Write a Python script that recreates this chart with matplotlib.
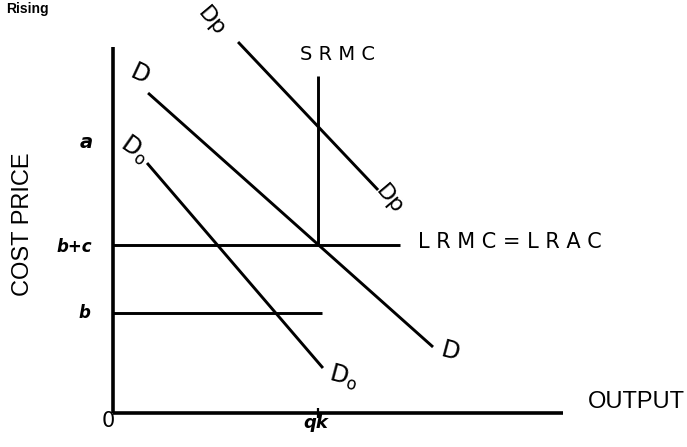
import matplotlib
matplotlib.use("Agg")
import matplotlib.pyplot as plt

# ---- data (x: output units, y: price units; origin at O) ----
qk = 100.0
b = 100.0
b_plus_c = 168.0
a_level = 270.0

# demand curves: (x_start, x_end), (y_start, y_end)
D_x = [17.1, 156.1]
D_y = [320.0, 66.0]
Do_x = [16.6, 102.4]
Do_y = [250.0, 45.0]
Dp_x = [61.0, 129.3]
Dp_y = [371.0, 223.0]

# cost lines
srmc_x = [qk, qk]
srmc_y = [b_plus_c, 337.0]
lrmc_x = [0.0, 140.0]
lrmc_y = [b_plus_c, b_plus_c]
b_x = [0.0, 102.0]
b_y = [b, b]

x_max = 219.5
y_max = 366.0

W, H = 687, 447
fig = plt.figure(figsize=(W / 100, H / 100), dpi=100)
ax = fig.add_axes([113 / W, (H - 413) / H, 450 / W, 366 / H])
ax.set_xlim(0, x_max)
ax.set_ylim(0, y_max)
for s in ["top", "right"]:
    ax.spines[s].set_visible(False)
for s in ["left", "bottom"]:
    ax.spines[s].set_linewidth(2.6)
    ax.spines[s].set_capstyle("butt")

lw = 2.1
kw = dict(color="black", lw=lw, solid_capstyle="butt", clip_on=False)
ax.plot(D_x, D_y, **kw)
ax.plot(Do_x, Do_y, **kw)
ax.plot(Dp_x, Dp_y, **kw)
ax.plot(srmc_x, srmc_y, **kw)
ax.plot(lrmc_x, lrmc_y, **kw)
ax.plot(b_x, b_y, **kw)

# ticks
ax.set_yticks([])
ax.set_xticks([qk])
ax.set_xticklabels([])
ax.tick_params(axis="x", direction="inout", length=7, width=1.6)

hand = dict(family="DejaVu Sans", fontstyle="italic", fontweight="bold", color="black")

# axis value labels
ax.text(-2.5, -8, "0", ha="center", va="center", fontsize=15,
        family="DejaVu Sans", clip_on=False)
ax.text(qk - 1, -10, "qk", ha="center", va="center", fontsize=13, clip_on=False, **hand)
ax.text(-19, b_plus_c - 2, "b+c", ha="center", va="center", fontsize=12, clip_on=False, **hand)
ax.text(-14, b, "b", ha="center", va="center", fontsize=12, clip_on=False, **hand)
ax.text(-13, a_level, "a", ha="center", va="center", fontsize=14, clip_on=False, **hand)

# curve labels
lab = dict(family="DejaVu Sans", color="black", clip_on=False, ha="center", va="center")
ax.text(13.2, 338, "D", fontsize=17, rotation=-25, **lab)
ax.text(164.4, 61, "D", fontsize=17, rotation=-15, **lab)
ax.text(10.7, 263, "D$_\\mathregular{o}$", fontsize=17, rotation=-35, **lab)
ax.text(112.5, 36, "D$_\\mathregular{o}$", fontsize=17, rotation=-15, **lab)
ax.text(48.3, 391, "Dp", fontsize=16, rotation=-50, **lab)
ax.text(135.1, 213, "Dp", fontsize=16, rotation=-50, **lab)

ax.text(109.3, 358, "S R M C", fontsize=14, family="DejaVu Sans", ha="center", va="center",
        clip_on=False)
ax.text(148.8, 171, "L R M C = L R A C", fontsize=15, family="DejaVu Sans", ha="left",
        va="center", clip_on=False)
ax.text(231.7, 11, "OUTPUT", fontsize=17, family="Liberation Sans", ha="left", va="center",
        clip_on=False)

fig.text(23 / W, 0.499, "COST PRICE", rotation=90, fontsize=17, family="Liberation Sans",
         ha="center", va="center")
fig.text(6 / W, 1 - 13 / H, "Rising", fontsize=10, fontweight="bold", family="Liberation Sans",
         ha="left", va="baseline")

fig.savefig("out.png", dpi=100)
